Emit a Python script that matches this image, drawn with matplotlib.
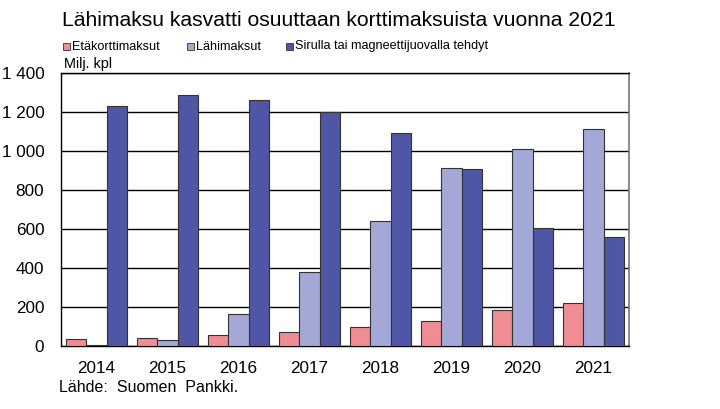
import numpy as np
import matplotlib.pyplot as plt
import matplotlib as mpl
from matplotlib.patches import Rectangle

mpl.rcParams["font.family"] = ["Liberation Sans", "DejaVu Sans"]

years = ["2014", "2015", "2016", "2017", "2018", "2019", "2020", "2021"]
eta = [35, 40, 52, 68, 97, 124, 181, 220]
lahi = [3, 28, 161, 376, 641, 914, 1012, 1114]
siru = [1232, 1290, 1263, 1199, 1092, 909, 603, 559]
series_names = ["Etäkorttimaksut", "Lähimaksut", "Sirulla tai magneettijuovalla tehdyt"]
colors = ["#F08C94", "#A4A8D7", "#4E56A5"]
yticks = [0, 200, 400, 600, 800, 1000, 1200, 1400]

fig = plt.figure(figsize=(7.2, 4.09), dpi=100)
ax = fig.add_axes([61 / 720, 1 - 345.5 / 409, 568 / 720, 272.2 / 409])

x = np.arange(len(years))
w = 0.29
for i, (vals, c) in enumerate(zip([eta, lahi, siru], colors)):
    ax.bar(x + (i - 1) * w, vals, w, color=c, edgecolor="#333333", linewidth=0.8, zorder=3)

ax.set_xlim(-0.5, len(years) - 0.5)
ax.set_ylim(0, 1400)
ax.set_yticks(yticks)
ax.set_yticklabels([f"{v:,}".replace(",", " ") for v in yticks], fontsize=12.3)
ax.set_xticks(x)
ax.set_xticklabels(years, fontsize=12.3)
ax.tick_params(length=0)
ax.tick_params(axis="x", pad=11)
ax.tick_params(axis="y", pad=12)
ax.yaxis.grid(True, color="black", linewidth=1, zorder=0)
for s in ["left", "top", "bottom"]:
    ax.spines[s].set_color("black")
    ax.spines[s].set_linewidth(1)
ax.spines["right"].set_color("#777777")
ax.spines["right"].set_linewidth(1.2)

fig.text(62 / 720, 1 - 20 / 409, "Lähimaksu kasvatti osuuttaan korttimaksuista vuonna 2021",
         fontsize=15.2, va="center", ha="left")
fig.text(64 / 720, 1 - 64 / 409, "Milj. kpl", fontsize=10.4, va="center", ha="left")
fig.text(59 / 720, 1 - 388 / 409, "Lähde:  Suomen  Pankki.", fontsize=11.5, va="center", ha="left")

# legend row
leg_x = [63, 187, 286]
for lx, name, c in zip(leg_x, series_names, colors):
    fig.patches.append(Rectangle((lx / 720, 1 - 50 / 409), 7 / 720, 7 / 409,
                                 transform=fig.transFigure, facecolor=c,
                                 edgecolor="#333333", linewidth=0.6))
    fig.text((lx + 9) / 720, 1 - 46.5 / 409, name, fontsize=9.1, va="center", ha="left")

plt.savefig("out.png", dpi=100)
